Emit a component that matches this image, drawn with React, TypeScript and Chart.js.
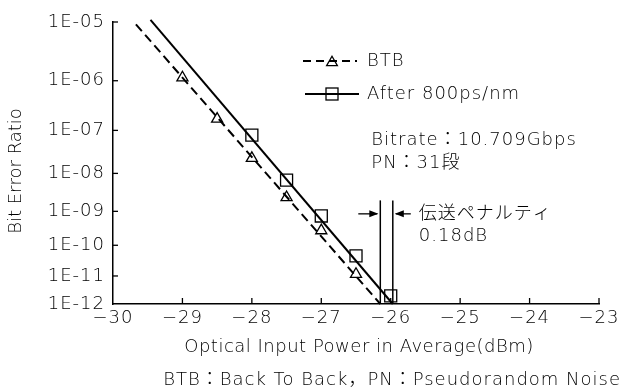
import { useEffect, useRef } from "react";
import { Chart, registerables } from "chart.js";

Chart.register(...registerables);

// ---- data ----
const powerTicks = [-30, -29, -28, -27, -26, -25, -24, -23];
const berExponents = [5, 6, 7, 8, 9, 10, 11, 12];

const btbPower = [-29, -28.5, -28, -27.5, -27, -26.5];
const btbBer = [1.14e-6, 1.75e-7, 2.33e-8, 2.4e-9, 2.8e-10, 1.15e-11];

const afterPower = [-28, -27.5, -27, -26.5, -26];
const afterBer = [7.9e-8, 6.8e-9, 7.4e-10, 4.6e-11, 2.0e-12];

const btbFitPower = [-29.67, -26.15];
const btbFitBer = [9.2e-6, 1e-12];
const afterFitPower = [-29.46, -25.97];
const afterFitBer = [1.08e-5, 1e-12];

const penaltyTopBer = 2e-9;
const penaltyArrowBer = 8.5e-10;

const legendLabels = ["BTB", "After 800ps/nm"];
const noteLines = ["Bitrate：10.709Gbps", "PN：31段"];
const penaltyLines = ["伝送ペナルティ", "0.18dB"];
const xTitle = "Optical Input Power in Average(dBm)";
const yTitle = "Bit Error Ratio";
const footnote = "BTB：Back To Back，PN：Pseudorandom Noise";

// BER -> log10(-log10(BER)) scale
const q = (ber: number) => Math.log10(-Math.log10(ber));

const FAMILY = '"DejaVu Sans", "Noto Sans CJK JP", sans-serif';
const FS = 18;
const FW = 300;
const FONT = `${FW} ${FS}px ${FAMILY}`;

const pts = (xs: number[], ys: number[]) => xs.map((x, i) => ({ x, y: q(ys[i]) }));

const drawTri = (ctx: CanvasRenderingContext2D, x: number, y: number, r: number) => {
  ctx.beginPath();
  ctx.moveTo(x, y - r);
  ctx.lineTo(x + r * 0.866, y + r / 2);
  ctx.lineTo(x - r * 0.866, y + r / 2);
  ctx.closePath();
  ctx.stroke();
};

const spacing = {
  id: "spacing",
  beforeDraw(chart: any) {
    (chart.ctx as any).letterSpacing = "1px";
  },
};

const annot = {
  id: "annot",
  afterDraw(chart: any) {
    const { ctx, chartArea, scales } = chart;
    const xs = scales.x;
    const ys = scales.y;
    ctx.save();
    ctx.strokeStyle = "#000";
    ctx.fillStyle = "#000";
    ctx.lineWidth = 1.3;
    // inward ticks
    ys.ticks.forEach((t: any, i: number) => {
      if (i === ys.ticks.length - 1) return;
      const py = ys.getPixelForValue(t.value);
      ctx.beginPath();
      ctx.moveTo(chartArea.left, py);
      ctx.lineTo(chartArea.left + 5, py);
      ctx.stroke();
    });
    xs.ticks.forEach((t: any, i: number) => {
      if (i === 0) return;
      const px = xs.getPixelForValue(t.value);
      ctx.beginPath();
      ctx.moveTo(px, chartArea.bottom);
      ctx.lineTo(px, chartArea.bottom - 6);
      ctx.stroke();
    });

    // legend
    const lx = chartArea.left + 190;
    const rows = [chartArea.top + 39, chartArea.top + 72];
    ctx.font = FONT;
    (ctx as any).letterSpacing = "1px";
    ctx.textBaseline = "middle";
    ctx.textAlign = "left";
    ctx.lineWidth = 2;
    ctx.setLineDash([8, 5]);
    ctx.beginPath();
    ctx.moveTo(lx, rows[0]);
    ctx.lineTo(lx + 54, rows[0]);
    ctx.stroke();
    ctx.setLineDash([]);
    ctx.lineWidth = 1.3;
    drawTri(ctx, lx + 29, rows[0] + 1.5, 6.2);
    ctx.lineWidth = 2;
    ctx.beginPath();
    ctx.moveTo(lx + 2, rows[1]);
    ctx.lineTo(lx + 56, rows[1]);
    ctx.stroke();
    ctx.lineWidth = 1.3;
    ctx.strokeRect(lx + 23, rows[1] - 6, 12, 12);
    ctx.fillText(legendLabels[0], lx + 64, rows[0]);
    ctx.fillText(legendLabels[1], lx + 64, rows[1]);

    // notes
    const nx = xs.getPixelForValue(-26.28);
    ctx.fillText(noteLines[0], nx, chartArea.top + 118);
    ctx.fillText(noteLines[1], nx, chartArea.top + 141);

    // penalty lines
    const p1 = xs.getPixelForValue(btbFitPower[1]);
    const p2 = xs.getPixelForValue(afterFitPower[1]);
    const ptop = ys.getPixelForValue(q(penaltyTopBer));
    ctx.lineWidth = 1.5;
    [p1, p2].forEach((px) => {
      ctx.beginPath();
      ctx.moveTo(px, ptop);
      ctx.lineTo(px, chartArea.bottom);
      ctx.stroke();
    });
    const ay = ys.getPixelForValue(q(penaltyArrowBer));
    // left arrow (pointing right)
    ctx.lineWidth = 1.3;
    ctx.beginPath();
    ctx.moveTo(p1 - 22, ay);
    ctx.lineTo(p1 - 3, ay);
    ctx.stroke();
    ctx.beginPath();
    ctx.moveTo(p1 - 2, ay);
    ctx.lineTo(p1 - 11, ay - 3.5);
    ctx.lineTo(p1 - 11, ay + 3.5);
    ctx.closePath();
    ctx.fill();
    // right arrow (pointing left)
    ctx.beginPath();
    ctx.moveTo(p2 + 3, ay);
    ctx.lineTo(p2 + 18, ay);
    ctx.stroke();
    ctx.beginPath();
    ctx.moveTo(p2 + 2, ay);
    ctx.lineTo(p2 + 11, ay - 3.5);
    ctx.lineTo(p2 + 11, ay + 3.5);
    ctx.closePath();
    ctx.fill();
    ctx.fillText(penaltyLines[0], p2 + 26, ay);
    ctx.fillText(penaltyLines[1], p2 + 26, ay + 22);

    // footnote
    ctx.textAlign = "right";
    ctx.fillText(footnote, chart.width - 3, chartArea.bottom + 76);
    // axis titles
    (ctx as any).letterSpacing = "0.5px";
    ctx.textAlign = "center";
    ctx.fillText(xTitle, (chartArea.left + chartArea.right) / 2 + 3, chartArea.bottom + 43);
    (ctx as any).letterSpacing = "0px";
    ctx.translate(16, (chartArea.top + chartArea.bottom) / 2 + 8);
    ctx.rotate(-Math.PI / 2);
    ctx.textAlign = "center";
    ctx.fillText(yTitle, 0, 0);
    ctx.restore();
  },
};

export default function App() {
  const ref = useRef<HTMLCanvasElement>(null);
  useEffect(() => {
    document.body.style.margin = "0";
    const chart = new Chart(ref.current!, {
      type: "scatter",
      data: {
        datasets: [
          {
            data: pts(btbFitPower, btbFitBer),
            showLine: true,
            borderColor: "#000",
            borderWidth: 2,
            borderDash: [9, 5],
            pointRadius: 0,
            clip: false as any,
          },
          {
            data: pts(afterFitPower, afterFitBer),
            showLine: true,
            borderColor: "#000",
            borderWidth: 2,
            pointRadius: 0,
            clip: false as any,
          },
          {
            data: pts(btbPower, btbBer),
            showLine: false,
            pointStyle: "triangle",
            pointRadius: 6.4,
            borderColor: "#000",
            backgroundColor: "rgba(0,0,0,0)",
            pointBorderWidth: 1.3,
            clip: false as any,
          },
          {
            data: pts(afterPower, afterBer),
            showLine: false,
            pointStyle: "rect",
            pointRadius: 8.5,
            borderColor: "#000",
            backgroundColor: "rgba(0,0,0,0)",
            pointBorderWidth: 1.3,
            clip: false as any,
          },
        ],
      },
      options: {
        responsive: false,
        animation: false,
        events: [],
        layout: { padding: { top: 22, right: 25, left: 0, bottom: 0 } },
        plugins: { legend: { display: false }, tooltip: { enabled: false } },
        scales: {
          x: {
            type: "linear",
            min: -30,
            max: -23,
            afterBuildTicks: (s: any) => {
              s.ticks = powerTicks.map((v) => ({ value: v }));
            },
            afterFit: (s: any) => {
              s.height = 87;
            },
            grid: { display: false, drawTicks: false },
            border: { display: true, color: "#000", width: 1.5 },
            ticks: {
              color: "#000",
              font: { family: FAMILY, size: FS, weight: FW as any },
              padding: 4,
              maxRotation: 0,
              autoSkip: false,
              callback: (v: any) => (v < 0 ? "−" + Math.abs(v) : String(v)),
            },
          },
          y: {
            type: "linear",
            reverse: true,
            min: q(1e-5),
            max: q(1e-12),
            afterBuildTicks: (s: any) => {
              s.ticks = berExponents.map((n) => ({ value: Math.log10(n) }));
            },
            afterFit: (s: any) => {
              s.width = 113;
            },
            grid: { display: false, drawTicks: false },
            border: { display: true, color: "#000", width: 1.5 },
            ticks: {
              color: "#000",
              font: { family: FAMILY, size: FS, weight: FW as any },
              padding: 8,
              autoSkip: false,
              callback: (v: any) =>
                "1E-" + String(Math.round(Math.pow(10, v))).padStart(2, "0"),
            },
          },
        },
      },
      plugins: [spacing, annot],
    });
    return () => chart.destroy();
  }, []);
  return <canvas ref={ref} width={624} height={391} style={{ display: "block" }} />;
}
